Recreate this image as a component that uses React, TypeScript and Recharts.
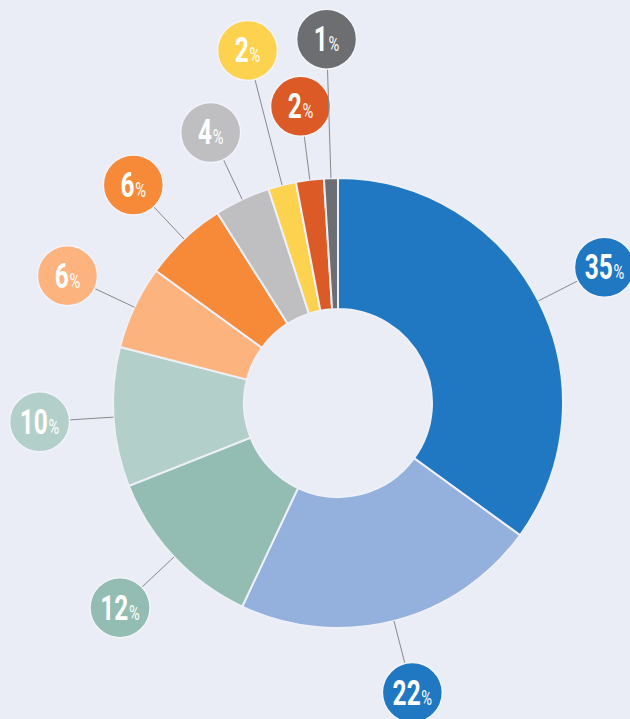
import { Pie, PieChart } from 'recharts'

const labels = ['A', 'B', 'C', 'D', 'E', 'F', 'G', 'H', 'I', 'J']
const shares = [35, 22, 12, 10, 6, 6, 4, 2, 2, 1]
const colors = ['#1f78c1', '#94b0dc', '#93bcb2', '#b3cfc9', '#fdb37d', '#f78a38', '#bfbfc1', '#fdd24f', '#dc5a26', '#6d6e71']
const bubbleColors = ['#1f78c1', '#1f78c1', '#93bcb2', '#b3cfc9', '#fdb37d', '#f78a38', '#bfbfc1', '#fdd24f', '#dc5a26', '#6d6e71']

const BG = '#eaecf6'
const RAD = Math.PI / 180

const rows = labels.map((name, i) => ({ name, value: shares[i], fill: colors[i] }))

// small slices at the top get pushed further out so bubbles don't collide
const bubbleDist = (i: number) => (i === 7 || i === 9 ? 364 : 299)

function Bubble(props: any) {
  const { cx, cy, midAngle, outerRadius, index, value } = props
  const d = bubbleDist(index)
  const r = 30
  const cos = Math.cos(-midAngle * RAD)
  const sin = Math.sin(-midAngle * RAD)
  const x = cx + d * cos
  const y = cy + d * sin
  return (
    <g>
      <line
        x1={cx + outerRadius * cos}
        y1={cy + outerRadius * sin}
        x2={cx + (d - r) * cos}
        y2={cy + (d - r) * sin}
        stroke="#8a8a8a"
        strokeWidth={1}
      />
      <circle cx={x} cy={y} r={r} fill={bubbleColors[index]} stroke="#f3f4fb" strokeWidth={1.5} />
      <g transform={`translate(${x},${y + 12}) scale(0.7,1)`}>
        <text x={0} y={0} textAnchor="middle" fill="#fff" fontFamily="Roboto, sans-serif">
          <tspan fontSize={35} fontWeight="bold">{value}</tspan>
          <tspan fontSize={21} dx={1}>%</tspan>
        </text>
      </g>
    </g>
  )
}

export default function App() {
  return (
    <div style={{ position: 'absolute', left: 0, top: 0, width: 630, height: 719, background: BG }}>
      <PieChart width={630} height={719} margin={{ top: 0, right: 0, bottom: 0, left: 0 }}>
        <Pie
          data={rows}
          dataKey="value"
          nameKey="name"
          cx={338}
          cy={403}
          innerRadius={94}
          outerRadius={225}
          startAngle={90}
          endAngle={-270}
          stroke="#eef0f8"
          strokeWidth={2}
          labelLine={false}
          label={Bubble}
          isAnimationActive={false}
        />
      </PieChart>
    </div>
  )
}
